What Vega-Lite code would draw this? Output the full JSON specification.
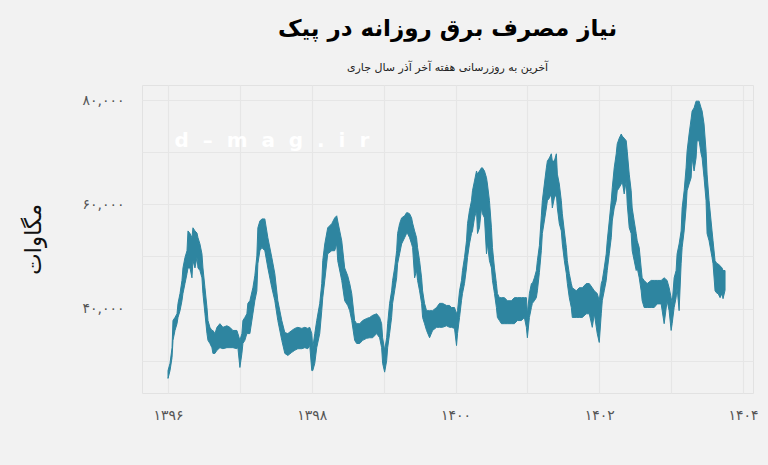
{
  "$schema": "https://vega.github.io/schema/vega-lite/v6.json",
  "autosize": {"type": "none"},
  "width": 611,
  "height": 308,
  "padding": {"left": 142, "top": 85, "right": 15, "bottom": 72},
  "background": "#f2f2f2",
  "title": {
    "text": "نیاز مصرف برق روزانه در پیک",
    "subtitle": "آخرین به روزرسانی هفته آخر آذر سال جاری",
    "anchor": "middle",
    "frame": "group",
    "font": "DejaVu Sans",
    "fontSize": 23,
    "fontWeight": "bold",
    "color": "#000000",
    "subtitleFont": "DejaVu Sans",
    "subtitleFontSize": 11,
    "subtitleColor": "#222222",
    "subtitlePadding": 21,
    "offset": 12
  },
  "config": {
    "locale": {
      "number": {
        "decimal": ".",
        "thousands": ",",
        "grouping": [3],
        "currency": ["", ""],
        "numerals": ["۰", "۱", "۲", "۳", "۴", "۵", "۶", "۷", "۸", "۹"]
      }
    },
    "view": {"stroke": "#e2e2e2", "fill": "#f2f2f2"},
    "axis": {
      "grid": true,
      "gridColor": "#e6e6e6",
      "gridWidth": 1.2,
      "domain": false,
      "ticks": false,
      "labelFont": "DejaVu Sans",
      "labelColor": "#555555",
      "labelFontSize": 14
    }
  },
  "datasets": {
    "wm": [{"t": 1396.09, "v": 72200, "label": "d\u00a0\u00a0–\u00a0\u00a0m\u00a0\u00a0a\u00a0\u00a0g\u00a0\u00a0.\u00a0\u00a0i\u00a0\u00a0r"}],
    "series": [
      {"t": 1396.000, "hi": 28100, "lo": 26600},
      {"t": 1396.028, "hi": 29500, "lo": 28100},
      {"t": 1396.056, "hi": 32500, "lo": 30600},
      {"t": 1396.069, "hi": 37700, "lo": 33900},
      {"t": 1396.097, "hi": 38300, "lo": 35800},
      {"t": 1396.125, "hi": 39000, "lo": 37100},
      {"t": 1396.139, "hi": 41000, "lo": 38300},
      {"t": 1396.167, "hi": 42900, "lo": 39600},
      {"t": 1396.194, "hi": 45400, "lo": 41500},
      {"t": 1396.208, "hi": 47800, "lo": 42900},
      {"t": 1396.236, "hi": 49800, "lo": 44800},
      {"t": 1396.264, "hi": 51100, "lo": 46700},
      {"t": 1396.278, "hi": 54900, "lo": 47800},
      {"t": 1396.306, "hi": 54400, "lo": 47800},
      {"t": 1396.333, "hi": 53600, "lo": 45900},
      {"t": 1396.347, "hi": 55500, "lo": 49200},
      {"t": 1396.375, "hi": 54900, "lo": 47800},
      {"t": 1396.403, "hi": 54500, "lo": 49800},
      {"t": 1396.417, "hi": 53600, "lo": 47800},
      {"t": 1396.444, "hi": 52400, "lo": 47300},
      {"t": 1396.472, "hi": 50500, "lo": 45900},
      {"t": 1396.486, "hi": 47800, "lo": 42900},
      {"t": 1396.514, "hi": 44000, "lo": 39000},
      {"t": 1396.542, "hi": 40200, "lo": 35200},
      {"t": 1396.556, "hi": 37700, "lo": 33900},
      {"t": 1396.583, "hi": 36400, "lo": 33300},
      {"t": 1396.611, "hi": 35800, "lo": 32500},
      {"t": 1396.625, "hi": 35800, "lo": 31400},
      {"t": 1396.653, "hi": 35200, "lo": 31400},
      {"t": 1396.681, "hi": 36400, "lo": 32000},
      {"t": 1396.722, "hi": 37100, "lo": 32500},
      {"t": 1396.764, "hi": 36400, "lo": 32300},
      {"t": 1396.819, "hi": 36700, "lo": 32500},
      {"t": 1396.861, "hi": 36400, "lo": 32500},
      {"t": 1396.903, "hi": 35800, "lo": 32500},
      {"t": 1396.958, "hi": 35800, "lo": 32300},
      {"t": 1396.972, "hi": 35200, "lo": 32500},
      {"t": 1397.000, "hi": 33900, "lo": 28700},
      {"t": 1397.028, "hi": 35200, "lo": 31400},
      {"t": 1397.042, "hi": 37700, "lo": 33300},
      {"t": 1397.069, "hi": 38300, "lo": 33900},
      {"t": 1397.097, "hi": 39000, "lo": 35200},
      {"t": 1397.111, "hi": 41000, "lo": 35200},
      {"t": 1397.139, "hi": 41500, "lo": 35200},
      {"t": 1397.181, "hi": 44000, "lo": 39000},
      {"t": 1397.208, "hi": 46300, "lo": 41500},
      {"t": 1397.236, "hi": 50100, "lo": 43400},
      {"t": 1397.250, "hi": 55500, "lo": 48600},
      {"t": 1397.278, "hi": 56800, "lo": 51100},
      {"t": 1397.306, "hi": 57200, "lo": 51700},
      {"t": 1397.347, "hi": 57200, "lo": 51100},
      {"t": 1397.389, "hi": 53600, "lo": 47800},
      {"t": 1397.444, "hi": 49800, "lo": 44000},
      {"t": 1397.486, "hi": 46700, "lo": 41500},
      {"t": 1397.528, "hi": 41500, "lo": 37700},
      {"t": 1397.583, "hi": 37700, "lo": 33900},
      {"t": 1397.625, "hi": 35400, "lo": 31400},
      {"t": 1397.667, "hi": 35200, "lo": 31000},
      {"t": 1397.722, "hi": 35800, "lo": 31600},
      {"t": 1397.764, "hi": 36200, "lo": 32000},
      {"t": 1397.806, "hi": 36400, "lo": 32300},
      {"t": 1397.861, "hi": 36200, "lo": 32300},
      {"t": 1397.903, "hi": 36400, "lo": 32500},
      {"t": 1397.944, "hi": 36200, "lo": 32300},
      {"t": 1397.972, "hi": 36400, "lo": 32900},
      {"t": 1398.000, "hi": 35200, "lo": 28100},
      {"t": 1398.014, "hi": 32500, "lo": 28100},
      {"t": 1398.042, "hi": 35200, "lo": 29500},
      {"t": 1398.069, "hi": 37700, "lo": 32500},
      {"t": 1398.111, "hi": 41000, "lo": 35200},
      {"t": 1398.139, "hi": 44800, "lo": 39600},
      {"t": 1398.153, "hi": 49200, "lo": 42100},
      {"t": 1398.181, "hi": 52400, "lo": 45400},
      {"t": 1398.222, "hi": 55500, "lo": 50500},
      {"t": 1398.278, "hi": 56300, "lo": 51100},
      {"t": 1398.319, "hi": 57400, "lo": 51100},
      {"t": 1398.347, "hi": 57800, "lo": 52400},
      {"t": 1398.361, "hi": 56800, "lo": 49200},
      {"t": 1398.417, "hi": 53000, "lo": 45400},
      {"t": 1398.458, "hi": 47800, "lo": 41500},
      {"t": 1398.500, "hi": 46300, "lo": 40600},
      {"t": 1398.528, "hi": 44800, "lo": 39600},
      {"t": 1398.556, "hi": 42900, "lo": 37700},
      {"t": 1398.597, "hi": 37700, "lo": 33900},
      {"t": 1398.625, "hi": 37100, "lo": 33300},
      {"t": 1398.667, "hi": 37100, "lo": 33300},
      {"t": 1398.708, "hi": 37700, "lo": 33900},
      {"t": 1398.764, "hi": 38100, "lo": 34300},
      {"t": 1398.806, "hi": 38300, "lo": 34400},
      {"t": 1398.847, "hi": 38700, "lo": 34400},
      {"t": 1398.903, "hi": 39000, "lo": 35200},
      {"t": 1398.944, "hi": 38300, "lo": 34400},
      {"t": 1398.972, "hi": 37100, "lo": 32500},
      {"t": 1398.986, "hi": 34400, "lo": 29500},
      {"t": 1399.014, "hi": 32000, "lo": 27800},
      {"t": 1399.042, "hi": 34400, "lo": 30000},
      {"t": 1399.056, "hi": 37100, "lo": 32500},
      {"t": 1399.083, "hi": 41000, "lo": 35200},
      {"t": 1399.111, "hi": 43400, "lo": 38300},
      {"t": 1399.125, "hi": 45400, "lo": 41000},
      {"t": 1399.153, "hi": 47800, "lo": 43400},
      {"t": 1399.181, "hi": 51100, "lo": 45900},
      {"t": 1399.194, "hi": 54400, "lo": 48600},
      {"t": 1399.222, "hi": 56300, "lo": 50500},
      {"t": 1399.250, "hi": 57400, "lo": 52400},
      {"t": 1399.292, "hi": 57800, "lo": 53600},
      {"t": 1399.319, "hi": 58400, "lo": 54400},
      {"t": 1399.333, "hi": 58400, "lo": 54400},
      {"t": 1399.361, "hi": 58200, "lo": 53600},
      {"t": 1399.389, "hi": 57400, "lo": 52400},
      {"t": 1399.403, "hi": 56400, "lo": 51700},
      {"t": 1399.431, "hi": 54900, "lo": 45900},
      {"t": 1399.458, "hi": 53600, "lo": 47300},
      {"t": 1399.472, "hi": 51700, "lo": 45400},
      {"t": 1399.500, "hi": 49200, "lo": 43400},
      {"t": 1399.528, "hi": 45900, "lo": 41000},
      {"t": 1399.542, "hi": 43400, "lo": 38300},
      {"t": 1399.569, "hi": 41000, "lo": 37100},
      {"t": 1399.597, "hi": 39600, "lo": 35800},
      {"t": 1399.639, "hi": 39600, "lo": 34400},
      {"t": 1399.681, "hi": 39600, "lo": 35800},
      {"t": 1399.736, "hi": 40200, "lo": 36400},
      {"t": 1399.778, "hi": 41000, "lo": 36400},
      {"t": 1399.819, "hi": 41000, "lo": 36400},
      {"t": 1399.875, "hi": 40600, "lo": 36700},
      {"t": 1399.917, "hi": 40600, "lo": 36400},
      {"t": 1399.944, "hi": 40200, "lo": 36400},
      {"t": 1399.986, "hi": 40200, "lo": 36200},
      {"t": 1400.014, "hi": 39000, "lo": 32900},
      {"t": 1400.028, "hi": 39600, "lo": 35200},
      {"t": 1400.056, "hi": 43400, "lo": 38300},
      {"t": 1400.083, "hi": 45400, "lo": 41500},
      {"t": 1400.097, "hi": 47300, "lo": 42900},
      {"t": 1400.125, "hi": 49800, "lo": 44800},
      {"t": 1400.153, "hi": 53000, "lo": 47800},
      {"t": 1400.167, "hi": 56300, "lo": 49800},
      {"t": 1400.194, "hi": 58800, "lo": 52400},
      {"t": 1400.222, "hi": 60700, "lo": 54400},
      {"t": 1400.236, "hi": 62600, "lo": 54900},
      {"t": 1400.264, "hi": 64500, "lo": 57400},
      {"t": 1400.292, "hi": 66400, "lo": 58800},
      {"t": 1400.306, "hi": 65800, "lo": 54400},
      {"t": 1400.333, "hi": 66400, "lo": 55500},
      {"t": 1400.361, "hi": 67000, "lo": 59300},
      {"t": 1400.375, "hi": 67000, "lo": 58200},
      {"t": 1400.403, "hi": 66400, "lo": 57400},
      {"t": 1400.431, "hi": 65100, "lo": 50500},
      {"t": 1400.444, "hi": 63900, "lo": 52400},
      {"t": 1400.472, "hi": 60700, "lo": 49200},
      {"t": 1400.500, "hi": 55500, "lo": 47800},
      {"t": 1400.514, "hi": 51700, "lo": 45400},
      {"t": 1400.542, "hi": 47800, "lo": 42900},
      {"t": 1400.569, "hi": 44800, "lo": 40200},
      {"t": 1400.583, "hi": 42900, "lo": 38300},
      {"t": 1400.611, "hi": 42100, "lo": 37700},
      {"t": 1400.639, "hi": 42100, "lo": 37100},
      {"t": 1400.681, "hi": 42100, "lo": 37100},
      {"t": 1400.722, "hi": 41500, "lo": 37100},
      {"t": 1400.778, "hi": 41500, "lo": 37100},
      {"t": 1400.819, "hi": 42100, "lo": 37100},
      {"t": 1400.861, "hi": 42100, "lo": 37700},
      {"t": 1400.917, "hi": 42100, "lo": 37700},
      {"t": 1400.958, "hi": 42100, "lo": 38300},
      {"t": 1400.986, "hi": 42100, "lo": 36400},
      {"t": 1401.000, "hi": 39000, "lo": 34400},
      {"t": 1401.028, "hi": 42900, "lo": 38300},
      {"t": 1401.056, "hi": 44800, "lo": 40200},
      {"t": 1401.069, "hi": 44800, "lo": 41000},
      {"t": 1401.097, "hi": 45900, "lo": 41500},
      {"t": 1401.125, "hi": 47300, "lo": 42100},
      {"t": 1401.139, "hi": 49200, "lo": 43400},
      {"t": 1401.167, "hi": 52100, "lo": 46900},
      {"t": 1401.194, "hi": 57800, "lo": 51100},
      {"t": 1401.208, "hi": 60700, "lo": 54400},
      {"t": 1401.236, "hi": 63900, "lo": 56800},
      {"t": 1401.264, "hi": 67000, "lo": 59300},
      {"t": 1401.278, "hi": 68300, "lo": 60700},
      {"t": 1401.306, "hi": 68900, "lo": 61200},
      {"t": 1401.333, "hi": 69700, "lo": 62000},
      {"t": 1401.347, "hi": 68300, "lo": 59300},
      {"t": 1401.375, "hi": 68300, "lo": 61200},
      {"t": 1401.403, "hi": 69700, "lo": 62000},
      {"t": 1401.417, "hi": 65800, "lo": 59300},
      {"t": 1401.444, "hi": 63900, "lo": 56300},
      {"t": 1401.472, "hi": 60700, "lo": 54900},
      {"t": 1401.486, "hi": 58200, "lo": 52400},
      {"t": 1401.514, "hi": 54900, "lo": 49200},
      {"t": 1401.542, "hi": 51700, "lo": 46700},
      {"t": 1401.556, "hi": 49200, "lo": 44800},
      {"t": 1401.583, "hi": 46700, "lo": 42100},
      {"t": 1401.611, "hi": 44800, "lo": 40200},
      {"t": 1401.625, "hi": 44000, "lo": 38300},
      {"t": 1401.681, "hi": 43400, "lo": 38300},
      {"t": 1401.722, "hi": 44000, "lo": 38300},
      {"t": 1401.764, "hi": 44000, "lo": 38300},
      {"t": 1401.819, "hi": 44800, "lo": 39000},
      {"t": 1401.861, "hi": 44800, "lo": 39000},
      {"t": 1401.903, "hi": 44000, "lo": 36400},
      {"t": 1401.931, "hi": 43400, "lo": 39000},
      {"t": 1401.972, "hi": 42900, "lo": 35200},
      {"t": 1402.000, "hi": 41500, "lo": 33500},
      {"t": 1402.028, "hi": 44800, "lo": 39000},
      {"t": 1402.042, "hi": 45400, "lo": 41500},
      {"t": 1402.069, "hi": 47800, "lo": 43400},
      {"t": 1402.097, "hi": 50500, "lo": 45400},
      {"t": 1402.111, "hi": 53000, "lo": 47300},
      {"t": 1402.139, "hi": 56800, "lo": 50500},
      {"t": 1402.167, "hi": 60700, "lo": 53600},
      {"t": 1402.181, "hi": 63200, "lo": 56800},
      {"t": 1402.208, "hi": 67000, "lo": 59300},
      {"t": 1402.236, "hi": 69700, "lo": 60700},
      {"t": 1402.250, "hi": 71600, "lo": 62600},
      {"t": 1402.278, "hi": 72700, "lo": 63200},
      {"t": 1402.306, "hi": 73500, "lo": 63900},
      {"t": 1402.319, "hi": 73100, "lo": 64500},
      {"t": 1402.347, "hi": 72700, "lo": 62000},
      {"t": 1402.375, "hi": 72200, "lo": 64500},
      {"t": 1402.389, "hi": 70200, "lo": 60100},
      {"t": 1402.417, "hi": 65800, "lo": 55500},
      {"t": 1402.444, "hi": 62600, "lo": 54400},
      {"t": 1402.458, "hi": 59300, "lo": 51100},
      {"t": 1402.486, "hi": 56800, "lo": 49200},
      {"t": 1402.514, "hi": 54400, "lo": 47300},
      {"t": 1402.528, "hi": 53000, "lo": 47800},
      {"t": 1402.556, "hi": 51700, "lo": 45900},
      {"t": 1402.583, "hi": 47800, "lo": 43400},
      {"t": 1402.597, "hi": 45900, "lo": 41500},
      {"t": 1402.625, "hi": 45400, "lo": 40200},
      {"t": 1402.667, "hi": 44800, "lo": 40200},
      {"t": 1402.722, "hi": 45400, "lo": 40200},
      {"t": 1402.764, "hi": 45400, "lo": 40200},
      {"t": 1402.806, "hi": 45400, "lo": 40900},
      {"t": 1402.861, "hi": 45400, "lo": 40900},
      {"t": 1402.903, "hi": 45900, "lo": 37100},
      {"t": 1402.944, "hi": 45400, "lo": 41500},
      {"t": 1402.972, "hi": 44000, "lo": 39600},
      {"t": 1403.000, "hi": 42100, "lo": 35800},
      {"t": 1403.014, "hi": 41000, "lo": 37100},
      {"t": 1403.042, "hi": 45900, "lo": 40200},
      {"t": 1403.069, "hi": 47300, "lo": 42100},
      {"t": 1403.083, "hi": 50500, "lo": 44000},
      {"t": 1403.111, "hi": 52400, "lo": 39600},
      {"t": 1403.139, "hi": 54900, "lo": 48600},
      {"t": 1403.153, "hi": 59300, "lo": 51700},
      {"t": 1403.181, "hi": 62600, "lo": 54900},
      {"t": 1403.208, "hi": 67000, "lo": 59300},
      {"t": 1403.222, "hi": 70200, "lo": 62600},
      {"t": 1403.250, "hi": 73500, "lo": 63900},
      {"t": 1403.278, "hi": 76400, "lo": 65100},
      {"t": 1403.292, "hi": 77900, "lo": 68900},
      {"t": 1403.319, "hi": 78500, "lo": 66400},
      {"t": 1403.347, "hi": 79800, "lo": 68900},
      {"t": 1403.361, "hi": 79800, "lo": 72200},
      {"t": 1403.389, "hi": 79800, "lo": 72200},
      {"t": 1403.417, "hi": 78500, "lo": 69700},
      {"t": 1403.431, "hi": 77900, "lo": 68900},
      {"t": 1403.458, "hi": 75400, "lo": 65100},
      {"t": 1403.486, "hi": 70200, "lo": 60700},
      {"t": 1403.500, "hi": 65800, "lo": 54400},
      {"t": 1403.528, "hi": 60700, "lo": 53000},
      {"t": 1403.569, "hi": 54900, "lo": 49800},
      {"t": 1403.583, "hi": 53000, "lo": 48600},
      {"t": 1403.611, "hi": 49200, "lo": 43400},
      {"t": 1403.639, "hi": 48600, "lo": 42900},
      {"t": 1403.653, "hi": 48600, "lo": 42900},
      {"t": 1403.681, "hi": 48200, "lo": 42100},
      {"t": 1403.708, "hi": 47800, "lo": 42900},
      {"t": 1403.722, "hi": 47300, "lo": 41900},
      {"t": 1403.750, "hi": 47300, "lo": 43500}
    ]
  },
  "layer": [
    {
      "data": {"name": "wm"},
      "mark": {"type": "text", "align": "left", "baseline": "middle", "font": "DejaVu Sans", "fontSize": 20, "fontWeight": "bold", "color": "#ffffff"},
      "encoding": {
        "x": {"field": "t", "type": "quantitative"},
        "y": {"field": "v", "type": "quantitative"},
        "text": {"field": "label"}
      }
    },
    {
      "data": {"name": "series"},
      "mark": {"type": "area", "color": "#2e85a0", "stroke": "#2e85a0", "strokeWidth": 1, "opacity": 1},
      "encoding": {
        "x": {
          "field": "t",
          "type": "quantitative",
          "scale": {"domain": [1395.638, 1404.139], "nice": false, "zero": false},
          "axis": {
            "values": [1396, 1397, 1398, 1399, 1400, 1401, 1402, 1403, 1404],
            "format": "d",
            "labelExpr": "datum.value % 2 == 0 ? datum.label : ''",
            "labelPadding": 15,
            "title": null
          }
        },
        "y": {
          "field": "hi",
          "type": "quantitative",
          "scale": {"domain": [23800, 82900], "nice": false, "zero": false},
          "axis": {
            "values": [30000, 40000, 50000, 60000, 70000, 80000],
            "format": ",d",
            "labelExpr": "datum.value % 20000 == 0 ? datum.label : ''",
            "labelPadding": 18,
            "title": "مگاوات",
            "titleFont": "DejaVu Sans",
            "titleFontSize": 23,
            "titleFontWeight": "normal",
            "titleColor": "#111111",
            "titlePadding": 36
          }
        },
        "y2": {"field": "lo"}
      }
    }
  ]
}
